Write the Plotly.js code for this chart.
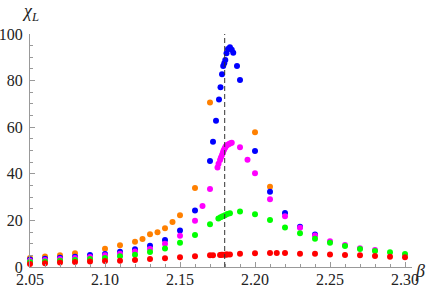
<!DOCTYPE html>
<html>
<head>
<meta charset="utf-8">
<script src="https://cdn.plot.ly/plotly-3.0.1.min.js"></script>
<style>
html,body{margin:0;padding:0;background:#fff;}
#chart{width:427px;height:291px;}
#chart svg text{font-family:'Liberation Serif',serif !important;}
</style>
</head>
<body>
<div id="chart"></div>
<script>
// Orange series
const betaOrange = [2.05,2.06,2.07,2.08,2.10,2.11,2.12,2.125,2.13,2.135,2.14,2.145,2.15,2.16,2.17,2.20,2.21];
const chiOrange  = [3.9,4.5,5.0,5.9,7.8,9.3,10.8,12.0,14.1,14.9,16.6,19.3,22.2,33.9,70.6,57.8,34.4];

// Blue series
const betaBlue = [2.05,2.06,2.07,2.08,2.09,2.10,2.11,2.12,2.13,2.14,2.15,2.16,2.17,2.172,2.174,2.176,2.177,2.178,2.1788,2.1795,2.1802,2.181,2.182,2.1833,2.1845,2.1855,2.188,2.19,2.20,2.21,2.22,2.23,2.24];
const chiBlue  = [3.2,3.5,4.0,4.4,5.1,5.6,6.5,7.6,9.1,11.6,15.7,24.2,45.5,53.8,62.8,71.9,77.1,82.7,86.3,87.5,88.8,91.7,93.6,94.3,93.2,92.0,86.3,80.3,49.8,32.3,23.2,17.3,14.0];

// Magenta series
const betaMagenta = [2.05,2.06,2.07,2.08,2.09,2.10,2.11,2.12,2.13,2.14,2.15,2.16,2.165,2.17,2.175,2.1757,2.1767,2.1773,2.178,2.1786,2.179,2.1795,2.18,2.1805,2.181,2.1818,2.1827,2.1836,2.1845,2.19,2.195,2.20,2.21,2.22,2.23,2.24,2.25,2.26,2.27,2.28];
const chiMagenta  = [2.7,3.0,3.4,3.9,4.3,5.0,5.7,6.6,7.7,10.0,13.4,19.9,26.2,33.5,42.7,44.3,45.9,47.0,48.1,49.0,49.9,50.5,51.2,51.7,52.1,52.5,52.8,53.1,53.3,51.4,46.0,40.2,29.1,21.8,16.8,13.5,11.1,9.4,8.0,7.3];

// Green series
const betaGreen = [2.05,2.06,2.07,2.08,2.09,2.10,2.11,2.12,2.13,2.14,2.15,2.16,2.17,2.1756,2.1771,2.1784,2.18,2.1816,2.1833,2.19,2.20,2.21,2.22,2.23,2.24,2.25,2.26,2.27,2.28,2.29,2.30];
const chiGreen  = [2.1,2.4,2.7,3.0,3.4,3.9,4.6,5.3,6.4,7.9,10.4,13.7,18.4,20.8,21.4,21.8,22.2,22.7,23.1,23.8,22.6,20.2,17.0,14.5,12.1,10.4,9.0,7.7,6.9,6.3,5.6];

// Red series
const betaRed = [2.05,2.06,2.07,2.08,2.09,2.10,2.11,2.12,2.13,2.14,2.15,2.16,2.17,2.172,2.1767,2.1775,2.1784,2.18,2.1808,2.1816,2.1833,2.19,2.20,2.21,2.2145,2.22,2.23,2.24,2.25,2.26,2.27,2.28,2.29,2.30];
const chiRed  = [1.3,1.6,1.9,2.1,2.4,2.6,2.7,3.0,3.4,3.8,4.2,4.6,5.0,5.0,5.2,5.3,5.3,5.3,5.4,5.4,5.4,5.7,5.9,6.0,6.0,6.0,5.7,5.7,5.4,5.2,5.0,4.7,4.4,4.2];

const betaCritical = 2.1798;
const xTicks = [2.05,2.10,2.15,2.20,2.25,2.30];
const xTickLabels = ["2.05","2.10","2.15","2.20","2.25","2.30"];
const yTicks = [0,20,40,60,80,100];
const yTickLabels = ["0","20","40","60","80","100"];

function series(x, y, color) {
  return {x: x, y: y, type: 'scatter', mode: 'markers', cliponaxis: false,
          marker: {color: color, size: 6, line: {width: 0}}, hoverinfo: 'skip'};
}

const data = [
  series(betaOrange, chiOrange, '#FF8000'),
  series(betaBlue, chiBlue, '#0000FF'),
  series(betaMagenta, chiMagenta, '#FF00FF'),
  series(betaGreen, chiGreen, '#00FF00'),
  series(betaRed, chiRed, '#FF0000')
];

const serif = 'Liberation Serif';
const axisGray = '#999999';

const layout = {
  width: 427, height: 291,
  margin: {l: 30, r: 15, t: 34, b: 24, pad: 0},
  paper_bgcolor: '#fff', plot_bgcolor: '#fff',
  showlegend: false,
  font: {family: serif, size: 16, color: '#222'},
  xaxis: {
    range: [2.05, 2.05 + 382/1500],
    tickvals: xTicks, ticktext: xTickLabels,
    ticks: 'inside', ticklen: 5, tickwidth: 1, tickcolor: axisGray,
    minor: {dtick: 0.01, tick0: 2.05, ticks: 'inside', ticklen: 3, tickcolor: axisGray, tickwidth: 1},
    showline: true, linecolor: axisGray, linewidth: 1,
    showgrid: false, zeroline: false,
    ticklabelstandoff: -2,
    tickfont: {family: serif, size: 16, color: '#222'}
  },
  yaxis: {
    range: [0, 100],
    tickvals: yTicks, ticktext: yTickLabels,
    ticks: 'inside', ticklen: 5, tickwidth: 1, tickcolor: axisGray,
    minor: {dtick: 5, tick0: 0, ticks: 'inside', ticklen: 3, tickcolor: axisGray, tickwidth: 1},
    showline: true, linecolor: axisGray, linewidth: 1,
    showgrid: false, zeroline: false,
    ticklabelstandoff: 3,
    tickfont: {family: serif, size: 16, color: '#222'}
  },
  shapes: [{
    type: 'line', xref: 'x', yref: 'y',
    x0: betaCritical, x1: betaCritical, y0: 0, y1: 100,
    line: {color: '#333', width: 1, dash: '5px,3px'}
  }],
  annotations: [
    {xref: 'paper', yref: 'paper', x: 0, y: 1, xanchor: 'center', yanchor: 'bottom',
     xshift: 0, yshift: 8, showarrow: false,
     text: '<i>χ</i><sub><i>L</i></sub>', font: {family: serif, size: 18, color: '#222'}},
    {xref: 'paper', yref: 'paper', x: 1, y: 0, xanchor: 'left', yanchor: 'middle',
     xshift: 1, yshift: -4, showarrow: false,
     text: '<i>β</i>', font: {family: serif, size: 18, color: '#222'}}
  ]
};

Plotly.newPlot('chart', data, layout, {staticPlot: true, displayModeBar: false});
</script>
</body>
</html>
